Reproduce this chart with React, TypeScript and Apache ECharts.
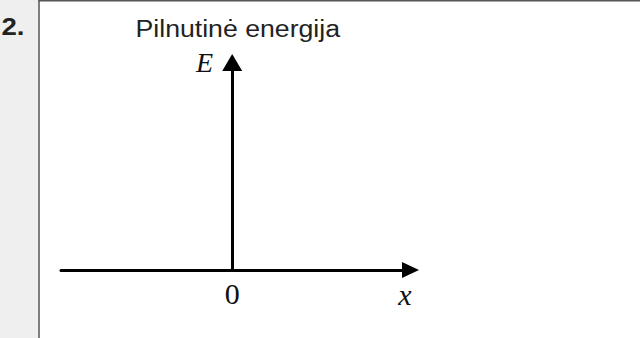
import React, { useEffect, useRef } from "react";
import * as echarts from "echarts";

// ---- content ----
const itemNumber = "2.";
const titleText = "Pilnutinė energija";
const xAxisName = "x";
const yAxisName = "E";
const xTickValues = [0];
const xTickLabels = ["0"];
const xRange = [-0.96, 1];
const yRange = [0, 1];
const seriesData: number[][] = [];

export default function App() {
  const ref = useRef<HTMLDivElement>(null);

  useEffect(() => {
    if (!ref.current) return;
    const chart = echarts.init(ref.current, null, { renderer: "svg" });
    const serif = "'Liberation Serif', 'Times New Roman', serif";
    const sans = "'Liberation Sans', Arial, Helvetica, sans-serif";

    chart.setOption({
      animation: false,
      backgroundColor: "#ffffff",
      grid: { left: 61, right: 229.5, top: 62.5, bottom: 68, containLabel: false },
      xAxis: {
        type: "value",
        min: xRange[0],
        max: xRange[1],
        name: xAxisName,
        nameLocation: "end",
        nameGap: -5.5,
        nameTextStyle: {
          fontFamily: serif,
          fontStyle: "italic",
          fontSize: 30,
          color: "#111",
          align: "center",
          verticalAlign: "top",
          padding: [9, 0, 0, 0],
        },
        axisLine: {
          show: true,
          onZero: true,
          symbol: ["none", "triangle"],
          symbolSize: [16, 17],
          lineStyle: { color: "#000", width: 3 },
        },
        axisTick: { show: false },
        splitLine: { show: false },
        axisLabel: {
          show: true,
          customValues: xTickValues,
          margin: 8,
          fontFamily: serif,
          fontSize: 30,
          color: "#111",
          formatter: (v: number) => {
            const i = xTickValues.indexOf(v);
            return i >= 0 ? xTickLabels[i] : "";
          },
        },
      },
      yAxis: {
        type: "value",
        min: yRange[0],
        max: yRange[1],
        name: yAxisName,
        nameLocation: "end",
        nameGap: 0,
        nameTextStyle: {
          fontFamily: serif,
          fontStyle: "italic",
          fontSize: 28,
          color: "#111",
          align: "right",
          verticalAlign: "middle",
          padding: [0, 19, 0, 0],
        },
        axisLine: {
          show: true,
          onZero: true,
          symbol: ["none", "triangle"],
          symbolSize: [20, 17],
          lineStyle: { color: "#000", width: 3 },
        },
        axisTick: { show: false },
        splitLine: { show: false },
        axisLabel: { show: false },
      },
      series: [
        {
          type: "line",
          data: seriesData,
          silent: true,
        },
      ],
      graphic: [
        {
          type: "rect",
          shape: { x: 0, y: 0, width: 38.5, height: 338 },
          style: { fill: "#efefef" },
          z: -10,
        },
        {
          type: "line",
          shape: { x1: 39, y1: 0, x2: 39, y2: 338 },
          style: { stroke: "#555", lineWidth: 1.5 },
        },
        {
          type: "line",
          shape: { x1: 38.5, y1: 0.75, x2: 640, y2: 0.75 },
          style: { stroke: "#555", lineWidth: 1.5 },
        },
        {
          type: "text",
          x: 1.5,
          y: 26.6,
          scaleX: 1.2,
          style: {
            text: itemNumber,
            font: `bold 23px ${sans}`,
            fill: "#222",
            align: "left",
            verticalAlign: "middle",
          },
        },
        {
          type: "text",
          x: 135.5,
          y: 29,
          scaleX: 1.16,
          style: {
            text: titleText,
            font: `23px ${sans}`,
            fill: "#222",
            align: "left",
            verticalAlign: "middle",
          },
        },
      ],
    });

    return () => chart.dispose();
  }, []);

  return (
    <div
      ref={ref}
      style={{ position: "absolute", left: 0, top: 0, width: 640, height: 338 }}
    />
  );
}
